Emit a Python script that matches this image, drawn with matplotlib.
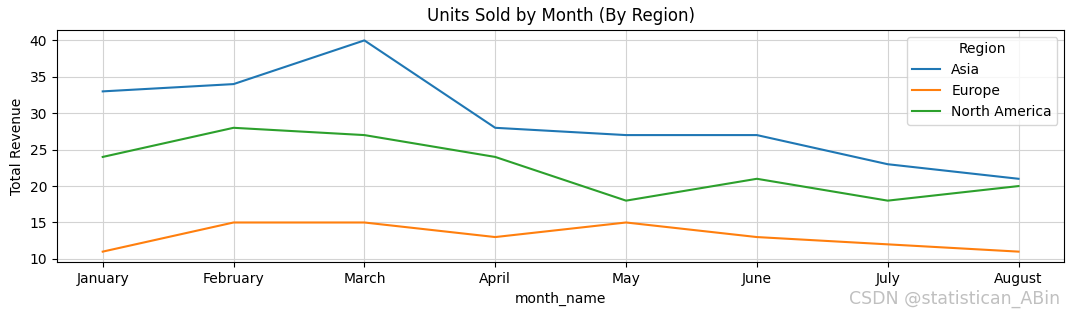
import matplotlib.pyplot as plt

months = ["January", "February", "March", "April", "May", "June", "July", "August"]
asia = [33, 34, 40, 28, 27, 27, 23, 21]
europe = [11, 15, 15, 13, 15, 13, 12, 11]
north_america = [24, 28, 27, 24, 18, 21, 18, 20]

fig, ax = plt.subplots(figsize=(10.74, 3.14), dpi=100)
ax.plot(months, asia, label="Asia")
ax.plot(months, europe, label="Europe")
ax.plot(months, north_america, label="North America")

ax.set_title("Units Sold by Month (By Region)")
ax.set_xlabel("month_name")
ax.set_ylabel("Total Revenue")
ax.grid(True, color="#d3d3d3", linewidth=0.8)
ax.set_axisbelow(True)
ax.legend(title="Region", loc="upper right")

fig.subplots_adjust(left=0.053, right=0.991, top=0.905, bottom=0.165)
# watermark
fig.text(0.987, 0.02, "CSDN @statistican_ABin", ha="right", va="bottom",
         fontsize=12.5, color="#c0c0c0")
fig.savefig("out.png")
